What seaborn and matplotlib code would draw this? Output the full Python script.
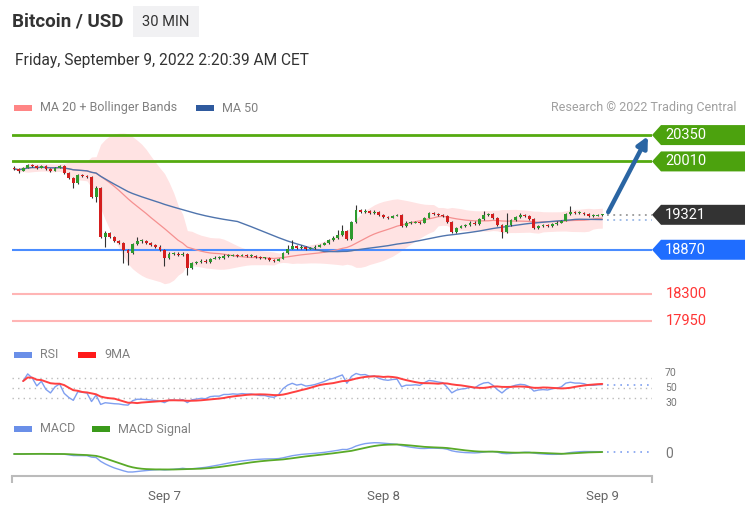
import numpy as np
import pandas as pd
import matplotlib
matplotlib.use("Agg")
import matplotlib.pyplot as plt
import seaborn as sns
from matplotlib.patches import Polygon, Rectangle

sns.set_theme(style="white")
plt.rcParams['font.family'] = ['Roboto', 'DejaVu Sans']

# ---------------- data (30-min candles, Sep 6 07:30 -> Sep 9 00:00) ----------------
closes = [19915, 19890, 19930, 19965, 19955, 19930, 19955, 19915, 19890, 19930,
          19955, 19865, 19800, 19735, 19835, 19825, 19810, 19555, 19670, 19040,
          19090, 19040, 18985, 18960, 18870, 18830, 18945, 18985, 18985, 18960,
          18935, 18910, 18870, 18765, 18820, 18820, 18805, 18820, 18640, 18700,
          18715, 18730, 18715, 18755, 18765, 18765, 18795, 18795, 18805, 18795,
          18805, 18795, 18795, 18780, 18765, 18765, 18740, 18730, 18755, 18830,
          18885, 18920, 18895, 18910, 18885, 18895, 18910, 18935, 18960, 19000,
          19025, 19065, 19115, 19010, 19230, 19385, 19360, 19375, 19345, 19360,
          19320, 19295, 19285, 19310, 19320, 19180, 19220, 19220, 19230, 19220,
          19285, 19345, 19335, 19320, 19310, 19230, 19100, 19155, 19180, 19190,
          19220, 19205, 19270, 19320, 19335, 19285, 19190, 19100, 19190, 19255,
          19295, 19320, 19310, 19270, 19155, 19180, 19190, 19180, 19205, 19220,
          19245, 19335, 19360, 19345, 19345, 19335, 19310, 19310, 19320, 19321]
highs = [19945, 19925, 19940, 19980, 19975, 19965, 19970, 19960, 19925, 19940,
         19970, 19960, 19875, 19810, 19850, 19850, 19840, 19820, 19690, 19685,
         19110, 19100, 19050, 19000, 18970, 18885, 18960, 19040, 19010, 19000,
         18970, 18945, 18925, 18880, 18840, 18845, 18835, 18835, 18830, 18715,
         18730, 18745, 18745, 18770, 18785, 18785, 18810, 18815, 18820, 18820,
         18820, 18815, 18810, 18805, 18795, 18780, 18775, 18755, 18770, 18840,
         18930, 19000, 18935, 18930, 18920, 18910, 18925, 18950, 18975, 19015,
         19045, 19130, 19190, 19125, 19245, 19450, 19400, 19395, 19385, 19380,
         19370, 19330, 19310, 19325, 19335, 19330, 19235, 19235, 19245, 19240,
         19295, 19360, 19360, 19350, 19330, 19320, 19240, 19170, 19195, 19205,
         19235, 19235, 19285, 19375, 19350, 19345, 19295, 19200, 19345, 19270,
         19310, 19340, 19335, 19320, 19280, 19195, 19205, 19200, 19220, 19235,
         19260, 19345, 19440, 19375, 19365, 19355, 19345, 19330, 19335, 19335]
lows = [19900, 19865, 19880, 19920, 19940, 19915, 19920, 19900, 19870, 19880,
        19920, 19850, 19785, 19670, 19725, 19810, 19795, 19540, 19490, 19025,
        18910, 19020, 18970, 18945, 18700, 18675, 18820, 18930, 18960, 18945,
        18920, 18895, 18855, 18665, 18750, 18800, 18790, 18790, 18550, 18625,
        18690, 18700, 18700, 18705, 18745, 18750, 18755, 18780, 18785, 18780,
        18785, 18780, 18780, 18765, 18750, 18750, 18725, 18715, 18720, 18745,
        18820, 18875, 18880, 18885, 18870, 18875, 18885, 18900, 18925, 18950,
        18985, 19010, 19050, 18995, 19000, 19220, 19345, 19345, 19330, 19335,
        19305, 19280, 19270, 19275, 19300, 19165, 19170, 19205, 19210, 19205,
        19210, 19275, 19320, 19305, 19295, 19215, 19085, 19090, 19145, 19170,
        19180, 19190, 19195, 19260, 19305, 19270, 19175, 19025, 19090, 19180,
        19245, 19285, 19295, 19255, 19140, 19140, 19170, 19165, 19170, 19195,
        19210, 19235, 19325, 19335, 19330, 19320, 19295, 19295, 19300, 19305]
first_open = 19930

tick_index = [33, 81, 129]
tick_labels = ["Sep 7", "Sep 8", "Sep 9"]
resistances = [20350, 20010]
pivot = 18870
supports = [18300, 17950]
last_price = 19321
target = 20350
rsi_levels = [70, 50, 30]

# ---------------- derived indicators ----------------
df = pd.DataFrame({"close": closes, "high": highs, "low": lows})
df["open"] = [first_open] + closes[:-1]
df["idx"] = np.arange(len(df))
c = df["close"]
df["ma20"] = c.rolling(20, min_periods=1).mean()
df["sd20"] = c.rolling(20, min_periods=1).std(ddof=0).fillna(0)
df["bb_up"] = df["ma20"] + 2 * df["sd20"]
df["bb_dn"] = df["ma20"] - 2 * df["sd20"]
df["ma50"] = c.rolling(50, min_periods=1).mean()
delta = c.diff()
gain = delta.clip(lower=0)
loss = (-delta).clip(lower=0)
ag = gain.ewm(alpha=1 / 14, adjust=True, min_periods=2).mean()
al = loss.ewm(alpha=1 / 14, adjust=True, min_periods=2).mean()
df["rsi"] = 100 - 100 / (1 + ag / al)
df["rsi9"] = df["rsi"].rolling(9, min_periods=1).mean()
ema12 = c.ewm(span=12, adjust=True).mean()
ema26 = c.ewm(span=26, adjust=True).mean()
df["macd"] = ema12 - ema26
df["signal"] = df["macd"].ewm(span=9, adjust=True).mean()
rs = df.dropna(subset=["rsi"])

# ---------------- figure ----------------
W, H = 748, 513
fig = plt.figure(figsize=(W / 100, H / 100), dpi=100)
fig.patch.set_facecolor("white")

def rect(top, bottom):
    return [12 / W, (H - bottom) / H, 640 / W, (bottom - top) / H]

XL = (-0.44, 139.9)
ax = fig.add_axes(rect(125, 335))
axr = fig.add_axes(rect(365, 410))
axm = fig.add_axes(rect(436, 476))
for a in (ax, axr, axm):
    a.set_xlim(*XL)
    a.set_facecolor("none")
    for s in a.spines.values():
        s.set_visible(False)
    a.set_xticks([])
    a.set_yticks([])
    a.set_xlabel("")
    a.set_ylabel("")
ax.set_ylim(17770, 20480)

# Bollinger band + MAs
ax.fill_between(df["idx"], df["bb_dn"], df["bb_up"], color="#ffdede", alpha=0.85, lw=0, zorder=1)
sns.lineplot(x=df["idx"], y=df["ma20"], ax=ax, color="#f59090", linewidth=0.9, zorder=3)
sns.lineplot(x=df["idx"], y=df["ma50"], ax=ax, color="#4f74ad", linewidth=1.0, zorder=3)

# levels
for lv in resistances:
    ax.axhline(lv, color="#55aa10", lw=2.0, zorder=2)
ax.axhline(pivot, color="#4a8cff", lw=1.5, zorder=2)
for lv in supports:
    ax.axhline(lv, color="#ffb5b5", lw=1.5, zorder=2)

# candles
up = df["close"] >= df["open"]
ax.vlines(df["idx"], df["low"], df["high"], color="#333333", lw=0.8, zorder=4)
body = (df["close"] - df["open"]).abs().clip(lower=12)
ax.bar(df["idx"], body, bottom=df[["open", "close"]].min(axis=1), width=0.62,
       color=np.where(up, "#2e9a2e", "#d41e1e"), linewidth=0, zorder=5)

last_i = df["idx"].iloc[-1]
ax.plot([last_i + 1, XL[1]], [last_price, last_price], color="#999999", lw=1.3,
        ls=(0, (1, 2.5)), zorder=3)
ax.plot([last_i + 1, XL[1]], [df["ma50"].iloc[-1]] * 2, color="#9ab8e6", lw=1.3,
        ls=(0, (1, 2.5)), zorder=3)

# arrow to target
ax.annotate("", xy=(XL[1] - 0.9, target - 15), xytext=(last_i + 1.3, last_price + 35),
            arrowprops=dict(arrowstyle="-|>", color="#2a65a3", lw=3.2, mutation_scale=16,
                            shrinkA=0, shrinkB=0), zorder=6)

# right side labels
ppx = 1 / 4.56   # index units per pixel
hh = 10 * 12.9   # half box height in price units
def tag(value, color):
    x0 = XL[1]
    pts = [(x0, value), (x0 + 9 * ppx, value + hh), (x0 + 93 * ppx, value + hh),
           (x0 + 93 * ppx, value - hh), (x0 + 9 * ppx, value - hh)]
    ax.add_patch(Polygon(pts, closed=True, facecolor=color, edgecolor="none",
                         clip_on=False, zorder=7))
    ax.text(x0 + 13 * ppx, value, f"{value}", color="white", fontsize=10.5,
            va="center", ha="left", clip_on=False, zorder=8)

for lv in resistances:
    tag(lv, "#4ca20e")
tag(last_price, "#333333")
tag(pivot, "#1f6dff")
for lv in supports:
    ax.text(XL[1] + 14 * ppx, lv, f"{lv}", color="#ff3535", fontsize=10.5,
            va="center", ha="left", clip_on=False)

# RSI panel
axr.set_ylim(8, 94)
for lv in rsi_levels:
    axr.axhline(lv, color="#bbbbbb", lw=1.0, ls=(0, (1, 3)))
for lv, va in zip(rsi_levels, ["bottom", "center", "top"]):
    axr.text(XL[1] + 13 * ppx, lv, str(lv), color="#777777", fontsize=7.5,
             va=va, ha="left", clip_on=False)
sns.lineplot(x=rs["idx"], y=rs["rsi"], ax=axr, color="#7f9ff0", linewidth=1.0)
sns.lineplot(x=rs["idx"], y=rs["rsi9"], ax=axr, color="#ff4040", linewidth=1.4)
axr.plot([last_i + 1, XL[1]], [rs["rsi"].iloc[-1]] * 2, color="#7f9ff0", lw=1.2, ls=(0, (1, 3)))

# MACD panel
mn = df["macd"].min()
ymin = mn * 22 / 18
axm.set_ylim(ymin, -ymin * 18 / 22)
sns.lineplot(x=df["idx"], y=df["macd"], ax=axm, color="#7f9ff0", linewidth=1.0)
sns.lineplot(x=df["idx"], y=df["signal"], ax=axm, color="#5aaa28", linewidth=1.3)
axm.plot([last_i + 1, XL[1]], [df["macd"].iloc[-1]] * 2, color="#7f9ff0", lw=1.2, ls=(0, (1, 3)))
axm.text(XL[1] + 13 * ppx, 0, "0", color="#777777", fontsize=10, va="center", ha="left",
         clip_on=False)
axm.spines["bottom"].set_visible(True)
axm.spines["bottom"].set_color("#bbbbbb")
axm.spines["bottom"].set_linewidth(1.5)
axm.set_xticks(tick_index)
axm.set_xticklabels(tick_labels, color="#666666", fontsize=9.5)
axm.tick_params(axis="x", length=0, pad=10)

# overlay for header / legends
ov = fig.add_axes([0, 0, 1, 1], zorder=-1)
ov.set_xlim(0, W)
ov.set_ylim(H, 0)
ov.axis("off")
ov.vlines([12, 652], 476, 483, color="#bbbbbb", lw=1.5)
ov.text(12, 21, "Bitcoin / USD", fontsize=13.5, fontweight="bold", color="#333333", va="center")
ov.add_patch(Rectangle((133, 6), 66, 31, facecolor="#f1f1f3", edgecolor="none"))
ov.text(166, 22, "30 MIN", fontsize=10.5, color="#333333", va="center", ha="center")
ov.text(15, 60, "Friday, September 9, 2022 2:20:39 AM CET", fontsize=11.2, color="#333333",
        va="center")

def legend_item(x, y, color, label):
    ov.add_patch(Rectangle((x, y - 3), 18, 6, facecolor=color, edgecolor="none"))
    ov.text(x + 26, y, label, fontsize=9, color="#808080", va="center")

legend_item(14, 108, "#ff8585", "MA 20 + Bollinger Bands")
legend_item(196, 108, "#2f5a9e", "MA 50")
ov.text(737, 108, "Research © 2022 Trading Central", fontsize=9, color="#a0a0a0",
        va="center", ha="right")
legend_item(14, 355, "#6a8fe8", "RSI")
legend_item(78, 355, "#ff1a1a", "9MA")
legend_item(14, 429, "#6a8fe8", "MACD")
legend_item(92, 429, "#3a9a1a", "MACD Signal")

fig.savefig("out.png", dpi=100, facecolor="white")
